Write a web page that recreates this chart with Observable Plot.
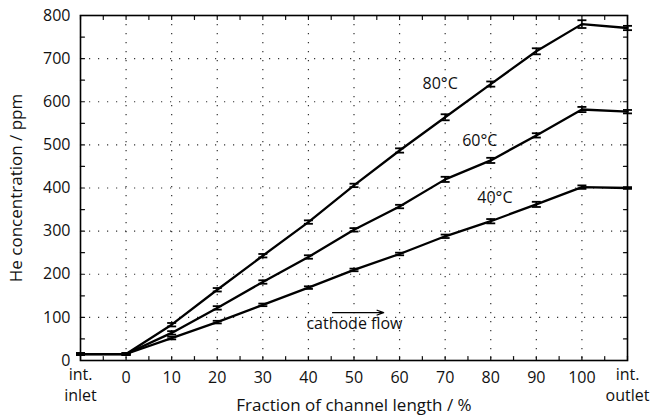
<!DOCTYPE html>
<html>
<head>
<meta charset="utf-8">
<script src="https://cdn.jsdelivr.net/npm/d3@7"></script>
<script src="https://cdn.jsdelivr.net/npm/@observablehq/plot@0.6"></script>
<style>
  html, body { margin: 0; padding: 0; background: #fff; }
  #chart svg { display: block; }
</style>
</head>
<body>
<div id="chart"></div>
<script>
// Positions along the channel: -10 = internal inlet, 110 = internal outlet
const positions = [-10, 0, 10, 20, 30, 40, 50, 60, 70, 80, 90, 100, 110];

// He concentration (ppm) and error half-widths per cell temperature
const he80 = [15, 15, 83, 164, 243, 321, 406, 487, 564, 641, 717, 780, 771];
const err80 = [2, 2, 4, 4, 4, 4, 4, 5, 7, 6, 7, 9, 5];
const he60 = [15, 15, 64, 122, 182, 240, 303, 357, 420, 464, 522, 582, 577];
const err60 = [2, 2, 4, 4, 4, 4, 4, 4, 6, 6, 5, 6, 4];
const he40 = [15, 15, 52, 89, 129, 169, 210, 247, 288, 323, 362, 402, 400];
const err40 = [2, 2, 3, 3, 3, 3, 3, 3, 4, 5, 6, 4, 2];

const seriesNames = ["80°C", "60°C", "40°C"];
const seriesValues = [he80, he60, he40];
const seriesErrors = [err80, err60, err40];

// Curve labels placed beside each line
const labelX = [68.9, 77.6, 80.9];
const labelY = [642, 510, 378];

// Axis ticks; the two end positions carry two-line labels
const xNumTicks = [0, 10, 20, 30, 40, 50, 60, 70, 80, 90, 100];
const xEnds = [-10, 110];
const xEndTop = ["int.", "int."];
const xEndBottom = ["inlet", "outlet"];
const yTicks = [0, 100, 200, 300, 400, 500, 600, 700, 800];
const xMinor = d3.range(-10, 111, 5);
const yMinor = d3.range(0, 801, 50);

const rows = seriesNames.flatMap((s, i) =>
  positions.map((x, j) => ({series: s, x, y: seriesValues[i][j], e: seriesErrors[i][j]}))
);
const labels = seriesNames.map((s, i) => ({text: s, x: labelX[i], y: labelY[i]}));

// short straight stroke used for inward axis ticks
const stick = {draw(ctx, l) { ctx.moveTo(0, 0); ctx.lineTo(0, -l); }};
// horizontal cap drawn as a dot symbol
const cap = {draw(ctx, size) { const w = Math.sqrt(size / Math.PI); ctx.moveTo(-w, 0); ctx.lineTo(w, 0); }};

const font = "'Open Sans', sans-serif";
const fs = 16;

const chart = Plot.plot({
  width: 657,
  height: 416,
  marginLeft: 80,
  marginRight: 30,
  marginTop: 15,
  marginBottom: 56,
  style: {fontFamily: font, fontSize: fs + "px", color: "#111", background: "#fff"},
  x: {type: "linear", domain: [-10, 110]},
  y: {type: "linear", domain: [0, 800]},
  marks: [
    Plot.gridY([100, 200, 300, 400, 500, 600, 700], {stroke: "#333", strokeOpacity: 1, strokeWidth: 1.2, strokeDasharray: "1.2,7.8"}),
    Plot.gridX(xNumTicks, {stroke: "#333", strokeOpacity: 1, strokeWidth: 1.2, strokeDasharray: "1.2,7.8"}),
    // inward minor ticks on all four sides
    Plot.vector(xMinor, {x: d => d, frameAnchor: "bottom", length: 4, rotate: 0, anchor: "start", shape: stick, stroke: "#111", strokeWidth: 1.2}),
    Plot.vector(xMinor, {x: d => d, frameAnchor: "top", length: 4, rotate: 180, anchor: "start", shape: stick, stroke: "#111", strokeWidth: 1.2}),
    Plot.vector(yMinor, {y: d => d, frameAnchor: "left", length: 4, rotate: 90, anchor: "start", shape: stick, stroke: "#111", strokeWidth: 1.2}),
    Plot.vector(yMinor, {y: d => d, frameAnchor: "right", length: 4, rotate: -90, anchor: "start", shape: stick, stroke: "#111", strokeWidth: 1.2}),
    Plot.axisX(xNumTicks, {
      tickSize: 0, tickPadding: 11,
      label: "Fraction of channel length / %", labelAnchor: "center", labelOffset: 50, labelArrow: "none",
      fontSize: fs
    }),
    Plot.axisX(xEnds, {
      tickSize: 0, tickPadding: 8,
      tickFormat: d => xEndTop[xEnds.indexOf(d)],
      label: null,
      fontSize: fs
    }),
    Plot.axisX(xEnds, {
      tickSize: 0, tickPadding: 29,
      tickFormat: d => xEndBottom[xEnds.indexOf(d)],
      label: null,
      fontSize: fs
    }),
    Plot.axisY(yTicks, {
      tickSize: 0, tickPadding: 10,
      label: "He concentration / ppm", labelAnchor: "center", labelOffset: 71, labelArrow: "none",
      fontSize: fs
    }),
    Plot.line(rows, {x: "x", y: "y", z: "series", stroke: "#000", strokeWidth: 2.3}),
    Plot.ruleX(rows, {x: "x", y1: d => d.y - d.e, y2: d => d.y + d.e, stroke: "#000", strokeWidth: 1.6}),
    Plot.dot(rows, {x: "x", y: d => d.y - d.e, r: 4.5, symbol: cap, stroke: "#000", strokeWidth: 1.8, fill: "none"}),
    Plot.dot(rows, {x: "x", y: d => d.y + d.e, r: 4.5, symbol: cap, stroke: "#000", strokeWidth: 1.8, fill: "none"}),
    Plot.frame({stroke: "#000", strokeWidth: 1.6}),
    Plot.text(labels, {x: "x", y: "y", text: "text", fontSize: fs, fill: "#111"}),
    Plot.text(["cathode flow"], {x: 50.1, y: 85, text: d => d, fontSize: fs, fill: "#111"}),
    Plot.arrow([0], {x1: 45.3, x2: 56.5, y1: 111, y2: 111, stroke: "#000", strokeWidth: 1.3, headLength: 8, headAngle: 40})
  ]
});

// axis titles a touch larger than tick labels
chart.querySelectorAll("[aria-label='x-axis label'] text, [aria-label='y-axis label'] text")
  .forEach(t => t.setAttribute("font-size", "17"));

document.getElementById("chart").append(chart);
</script>
</body>
</html>
